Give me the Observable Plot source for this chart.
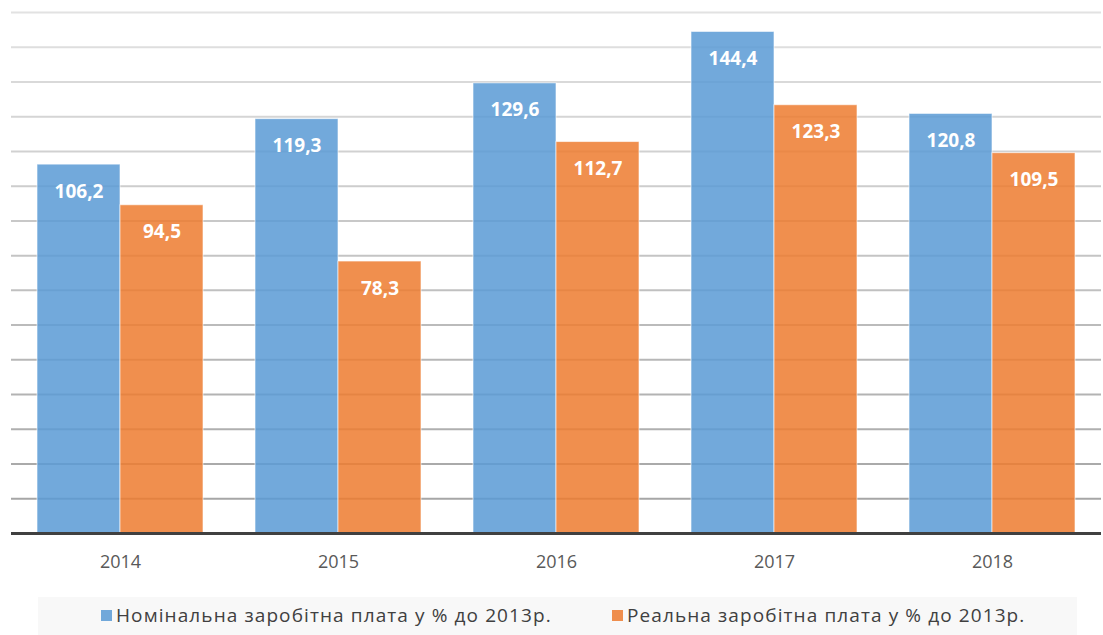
<!DOCTYPE html>
<html>
<head>
<meta charset="utf-8">
<script src="https://cdn.jsdelivr.net/npm/d3@7"></script>
<script src="https://cdn.jsdelivr.net/npm/@observablehq/plot@0.6"></script>
<style>
  html, body { margin: 0; padding: 0; background: #fff; }
  #wrap { position: relative; width: 1103px; height: 635px; font-family: "Open Sans", sans-serif; }
  #legend { position: absolute; left: 38px; top: 597px; width: 1039px; height: 38px; background: #f8f8f8; }
  .item { position: absolute; top: 5px; font-size: 19px; letter-spacing: 1.1px; color: #404040; white-space: nowrap; }
  .sw { display: inline-block; width: 11px; height: 11px; margin-right: 4px; vertical-align: 1px; }
</style>
</head>
<body>
<div id="wrap">
  <div id="chart"></div>
  <div id="legend"></div>
</div>
<script>
const years = ["2014", "2015", "2016", "2017", "2018"];
const seriesNames = ["Номінальна заробітна плата у % до 2013р.", "Реальна заробітна плата у % до 2013р."];
const nominal = [106.2, 119.3, 129.6, 144.4, 120.8];
const real = [94.5, 78.3, 112.7, 123.3, 109.5];
const gridTicks = [10, 20, 30, 40, 50, 60, 70, 80, 90, 100, 110, 120, 130, 140, 150];
const colors = ["#5b9bd5", "#ed7d31"];

const data = [];
years.forEach((y, i) => {
  data.push({year: y, series: seriesNames[0], value: nominal[i]});
  data.push({year: y, series: seriesNames[1], value: real[i]});
});

const gridColor = d3.scaleLinear().domain([10, 150]).range(["#a6a6a6", "#e2e2e2"]);
const fmt = v => v.toFixed(1).replace(".", ",");

const chart = Plot.plot({
  width: 1103,
  height: 585,
  marginTop: 12,
  marginBottom: 52,
  marginLeft: 9,
  marginRight: 0,
  style: {fontFamily: "'Open Sans', sans-serif", background: "#fff"},
  fx: {domain: years, padding: 0, label: null, axis: null},
  x: {domain: seriesNames, paddingInner: 0, paddingOuter: 0.31, axis: null},
  y: {domain: [0, 150], axis: null},
  color: {domain: seriesNames, range: colors},
  marks: [
    ...gridTicks.map(t => Plot.ruleY([t], {stroke: gridColor(t), strokeWidth: 2})),
    Plot.barY(data, {fx: "year", x: "series", y: "value", fill: "series", fillOpacity: 0.86, stroke: "#fff", strokeOpacity: 0.6, strokeWidth: 1, insetLeft: 0, insetRight: 0}),
    Plot.text(data, {fx: "year", x: "series", y: "value", text: d => fmt(d.value), dy: 27, fill: "#fff", fontWeight: "bold", fontSize: 19, letterSpacing: "1px"}),
    Plot.ruleY([0], {stroke: "#404040", strokeWidth: 3}),
    Plot.axisFx({domain: years, tickSize: 0, tickPadding: 22, fontSize: 18, color: "#595959", label: null, anchor: "bottom", letterSpacing: "1.4px"})
  ]
});
document.getElementById("chart").appendChild(chart);

const legend = document.getElementById("legend");
const lefts = [63, 574];
seriesNames.forEach((s, i) => {
  const el = document.createElement("span");
  el.className = "item";
  el.style.left = lefts[i] + "px";
  el.innerHTML = `<span class="sw" style="background:${colors[i]};opacity:0.86"></span>${s}`;
  legend.appendChild(el);
});
</script>
</body>
</html>
